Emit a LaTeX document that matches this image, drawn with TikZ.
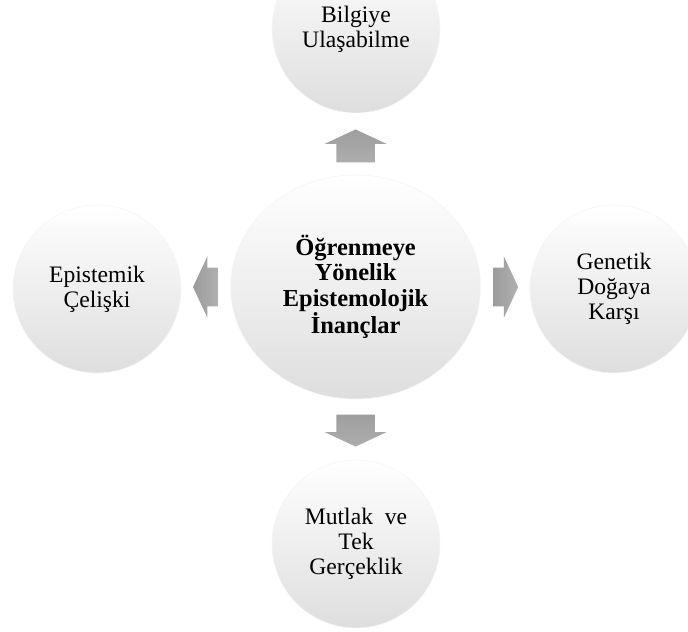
\documentclass[tikz,border=0pt]{standalone}
\usepackage{fontspec}
\setmainfont{Liberation Serif}
\usetikzlibrary{shapes.geometric,shapes.arrows,calc}

\begin{document}
\begin{tikzpicture}[
  bubble/.style={circle,draw=black!4,top color=white,middle color=white,bottom color=black!13,
    minimum size=4.2cm,inner sep=0pt,align=center,font=\fontsize{16.8}{18}\selectfont},
  hub/.style={ellipse,draw=black!4,top color=white,middle color=white,bottom color=black!13,
    minimum width=6.25cm,minimum height=5.6cm,inner sep=0pt,align=center,
    font=\fontsize{17.4}{18}\selectfont\bfseries},
  blockarrow/.style={single arrow,draw=none,anchor=tail,
    single arrow head extend=0.2875cm,single arrow tip angle=130,minimum height=#1},
  harrow/.style={blockarrow=#1,inner xsep=0pt,inner ysep=0.475cm,left color=black!39,right color=black!31},
  varrow/.style={blockarrow=#1,inner xsep=0.475cm,inner ysep=0pt,top color=black!38,bottom color=black!32}
]
  \path[use as bounding box,clip] (0,0) rectangle (17.2,15.8);

  \node[hub] (hub) at (8.89,8.625) {Öğrenmeye\\Yönelik\\Epistemolojik\\İnançlar};

  \node[bubble] (access)   at (8.9,15.075) {Bilgiye\\Ulaşabilme};
  \node[bubble] (conflict) at (2.425,8.575) {Epistemik\\Çelişki};
  \node[bubble] (genetic)  at (15.35,8.575) {Genetik\\Doğaya\\Karşı};
  \node[bubble] (absolute) at (8.9,2.2) {Mutlak\ \ ve\\Tek\\Gerçeklik};

  % block arrows pointing out of the centre
  \node[varrow=0.825cm,shape border rotate=90] (upA) at ($(hub.north)+(0,0.3)$) {};
  \node[varrow=0.8cm,shape border rotate=270] (downA) at ($(hub.south)+(0,-0.375)$) {};
  \node[harrow=0.625cm,shape border rotate=180] (leftA) at ($(hub.west)+(-0.3,0)$) {};
  \node[harrow=0.625cm] (rightA) at ($(hub.east)+(0.3,0)$) {};
\end{tikzpicture}
\end{document}
